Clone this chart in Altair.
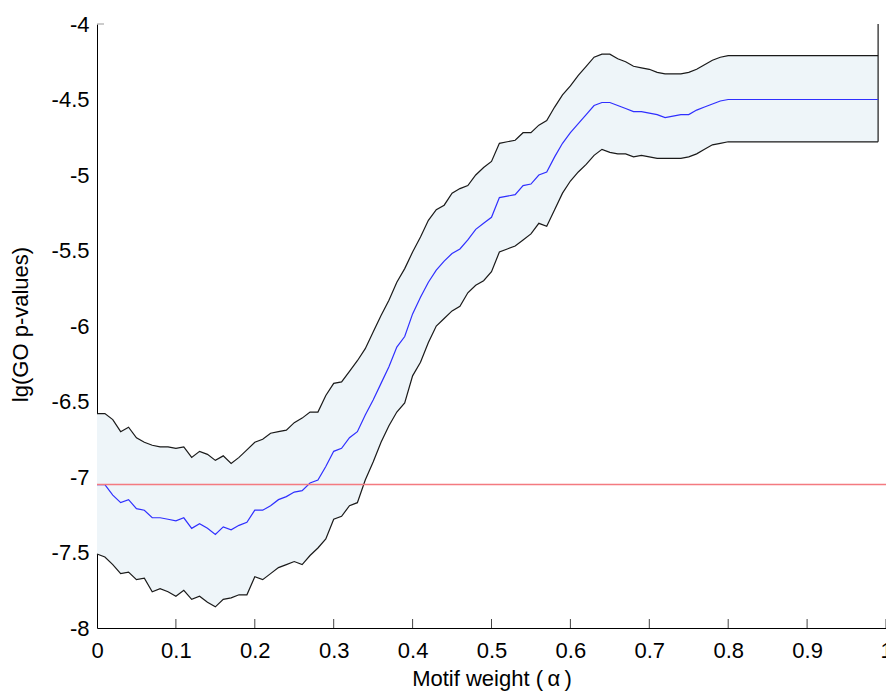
import altair as alt
import pandas as pd
import numpy as np

# Motif weight grid (alpha)
alpha = [round(v, 2) for v in np.arange(0, 1.0, 0.01)]

upper = [-6.58, -6.58, -6.62, -6.70, -6.67, -6.74, -6.77, -6.79, -6.80, -6.80,
         -6.81, -6.80, -6.87, -6.83, -6.85, -6.89, -6.86, -6.91, -6.87, -6.82,
         -6.77, -6.75, -6.71, -6.70, -6.69, -6.64, -6.61, -6.57, -6.57, -6.46,
         -6.38, -6.37, -6.30, -6.23, -6.15, -6.04, -5.93, -5.83, -5.71, -5.62,
         -5.51, -5.41, -5.30, -5.23, -5.20, -5.12, -5.09, -5.07, -5.00, -4.95,
         -4.91, -4.79, -4.78, -4.77, -4.72, -4.72, -4.67, -4.64, -4.55, -4.47,
         -4.41, -4.34, -4.28, -4.22, -4.20, -4.20, -4.23, -4.25, -4.28, -4.29,
         -4.30, -4.32, -4.33, -4.33, -4.33, -4.32, -4.30, -4.27, -4.24, -4.22,
         -4.21, -4.21, -4.21, -4.21, -4.21, -4.21, -4.21, -4.21, -4.21, -4.21,
         -4.21, -4.21, -4.21, -4.21, -4.21, -4.21, -4.21, -4.21, -4.21, -4.21]

mean = [-7.05, -7.05, -7.12, -7.17, -7.15, -7.21, -7.22, -7.27, -7.27, -7.28,
        -7.29, -7.27, -7.34, -7.31, -7.34, -7.38, -7.33, -7.35, -7.32, -7.30,
        -7.22, -7.22, -7.19, -7.15, -7.13, -7.10, -7.09, -7.04, -7.02, -6.93,
        -6.83, -6.81, -6.74, -6.70, -6.59, -6.49, -6.38, -6.27, -6.14, -6.07,
        -5.92, -5.81, -5.71, -5.63, -5.57, -5.52, -5.49, -5.43, -5.36, -5.32,
        -5.28, -5.15, -5.14, -5.13, -5.07, -5.06, -5.00, -4.98, -4.88, -4.79,
        -4.72, -4.66, -4.60, -4.54, -4.52, -4.52, -4.54, -4.56, -4.58, -4.58,
        -4.59, -4.60, -4.62, -4.61, -4.60, -4.60, -4.57, -4.55, -4.53, -4.51,
        -4.50, -4.50, -4.50, -4.50, -4.50, -4.50, -4.50, -4.50, -4.50, -4.50,
        -4.50, -4.50, -4.50, -4.50, -4.50, -4.50, -4.50, -4.50, -4.50, -4.50]

lower = [-7.51, -7.53, -7.58, -7.64, -7.63, -7.68, -7.67, -7.76, -7.74, -7.76,
         -7.79, -7.75, -7.81, -7.79, -7.83, -7.86, -7.81, -7.80, -7.78, -7.78,
         -7.66, -7.68, -7.64, -7.60, -7.58, -7.56, -7.58, -7.52, -7.47, -7.41,
         -7.28, -7.26, -7.19, -7.17, -7.02, -6.90, -6.77, -6.66, -6.57, -6.51,
         -6.33, -6.24, -6.11, -6.00, -5.95, -5.90, -5.87, -5.78, -5.73, -5.70,
         -5.64, -5.51, -5.49, -5.47, -5.43, -5.39, -5.32, -5.34, -5.23, -5.12,
         -5.04, -4.98, -4.93, -4.87, -4.83, -4.85, -4.86, -4.86, -4.88, -4.87,
         -4.88, -4.89, -4.89, -4.89, -4.89, -4.88, -4.86, -4.83, -4.80, -4.79,
         -4.78, -4.78, -4.78, -4.78, -4.78, -4.78, -4.78, -4.78, -4.78, -4.78,
         -4.78, -4.78, -4.78, -4.78, -4.78, -4.78, -4.78, -4.78, -4.78, -4.78]

# closing vertical edge of the band outline at the last alpha
edge_x = [0.99, 0.99]
edge_y = [-4.78, -4.0]

reference_level = -7.05

x_ticks = [0, 0.1, 0.2, 0.3, 0.4, 0.5, 0.6, 0.7, 0.8, 0.9, 1]
y_ticks = [-8, -7.5, -7, -6.5, -6, -5.5, -5, -4.5, -4]

FONT = "Liberation Sans"
W, H = 789, 604

df = pd.DataFrame({"alpha": alpha, "upper": upper, "mean": mean, "lower": lower})
edge_df = pd.DataFrame({"alpha": edge_x, "v": edge_y})
ref_df = pd.DataFrame({"level": [reference_level]})
xt_df = pd.DataFrame({"t": x_ticks[1:]})
yt_df = pd.DataFrame({"t": [y_ticks[-1]]})

xscale = alt.Scale(domain=[0, 1], nice=False, zero=False)
yscale = alt.Scale(domain=[-8, -4], nice=False, zero=False)

xaxis = alt.Axis(
    values=x_ticks, labelExpr="'' + datum.value", ticks=False, tickSize=0,
    grid=False, domainColor="#000000", domainWidth=1,
    labelFont=FONT, labelFontSize=22, labelColor="#000000", labelPadding=12,
    labelFlush=False, labelOverlap=False,
    title="Motif weight (\u2009α\u2009)", titleFont=FONT, titleFontSize=22,
    titleFontWeight="normal", titleColor="#000000",
    titleY=57, titleBaseline="alphabetic",
)
yaxis = alt.Axis(
    values=y_ticks, labelExpr="'' + datum.value", ticks=False, tickSize=0,
    grid=False, domainColor="#000000", domainWidth=1,
    labelFont=FONT, labelFontSize=22, labelColor="#000000", labelPadding=8,
    labelFlush=False, labelOverlap=False,
    title="lg(GO p-values)", titleFont=FONT, titleFontSize=22,
    titleFontWeight="normal", titleColor="#000000",
    titleAngle=270, titleX=-70, titleY=300, titleBaseline="alphabetic",
)

base = alt.Chart(df)
X = alt.X("alpha:Q", scale=xscale, axis=xaxis)

band = base.mark_area(color="#EEF5F9", opacity=1).encode(
    x=X, y=alt.Y("lower:Q", scale=yscale, axis=yaxis), y2="upper:Q"
)
up_line = base.mark_line(color="#1a1a1a", strokeWidth=1.2).encode(
    x="alpha:Q", y=alt.Y("upper:Q", scale=yscale)
)
lo_line = base.mark_line(color="#1a1a1a", strokeWidth=1.2).encode(
    x="alpha:Q", y=alt.Y("lower:Q", scale=yscale)
)
edge = alt.Chart(edge_df).mark_line(color="#1a1a1a", strokeWidth=1.2).encode(
    x="alpha:Q", y=alt.Y("v:Q", scale=yscale)
)
mean_line = base.mark_line(color="#2F2FFF", strokeWidth=1.2).encode(
    x="alpha:Q", y=alt.Y("mean:Q", scale=yscale)
)
ref = alt.Chart(ref_df).mark_rule(color="#F47A80", strokeWidth=1.5).encode(
    y=alt.Y("level:Q", scale=yscale)
)
xticks = alt.Chart(xt_df).mark_rule(color="#444444", strokeWidth=1).encode(
    x="t:Q", y=alt.value(H - 9), y2=alt.value(H)
)
yticks = alt.Chart(yt_df).mark_rule(color="#999999", strokeWidth=1).encode(
    y=alt.Y("t:Q", scale=yscale), x=alt.value(0), x2=alt.value(7)
)

chart = alt.layer(band, up_line, lo_line, edge, mean_line, ref, xticks, yticks).properties(
    width=W, height=H,
    padding={"left": 97, "top": 24, "right": 0, "bottom": 65},
    autosize=alt.AutoSizeParams(type="none"),
    background="white",
).configure_view(strokeWidth=0)

chart.save("out.html", embed_options={"renderer": "svg", "actions": False})
